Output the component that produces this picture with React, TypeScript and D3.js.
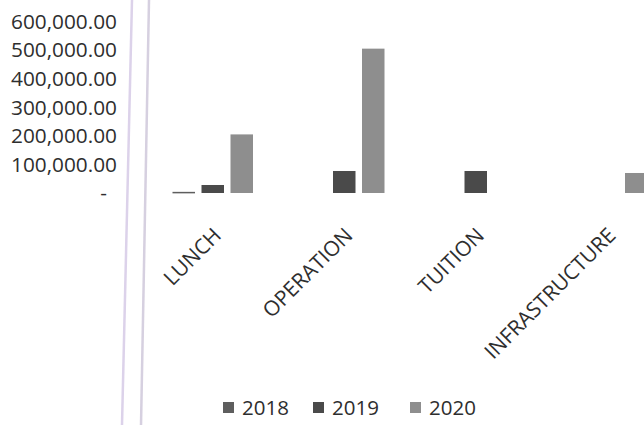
import React, { useEffect, useRef } from "react";
import * as d3 from "d3";

const categories = ["LUNCH", "OPERATION", "TUITION", "INFRASTRUCTURE"];
const seriesNames = ["2018", "2019", "2020"];
const values2018 = [4000, 0, 0, 0];
const values2019 = [28000, 77000, 77000, 0];
const values2020 = [205000, 505000, 0, 70000];
const yTicks = [0, 100000, 200000, 300000, 400000, 500000, 600000];

const colors = ["#5e5e5e", "#4a4a4a", "#8e8e8e"];

const App = () => {
  const ref = useRef<SVGSVGElement>(null);

  useEffect(() => {
    const width = 644;
    const height = 425;
    const svg = d3.select(ref.current).attr("width", width).attr("height", height);
    svg.selectAll("*").remove();

    const allSeries = [values2018, values2019, values2020];

    // page lines from the scan
    svg.append("line").attr("x1", 132).attr("y1", 0).attr("x2", 122).attr("y2", height)
      .attr("stroke", "#dcd2ea").attr("stroke-width", 2.5);
    svg.append("line").attr("x1", 149).attr("y1", 0).attr("x2", 141).attr("y2", height)
      .attr("stroke", "#d6d0e0").attr("stroke-width", 2.5);

    const x0 = d3.scaleBand<string>().domain(categories).range([147, 673]).padding(0);
    const x1 = d3.scaleBand<string>()
      .domain(seriesNames)
      .range([(x0.bandwidth() - 80.5) / 2, (x0.bandwidth() + 80.5) / 2])
      .paddingInner(0.224)
      .paddingOuter(0);

    const y = d3.scaleLinear().domain([0, 600000]).range([193, 21.5]);

    const fmt = d3.format(",.2f");
    const font = "'Open Sans', sans-serif";

    // y tick labels
    svg.append("g").selectAll("text")
      .data(yTicks)
      .enter()
      .append("text")
      .attr("x", d => (d === 0 ? 107 : 117))
      .attr("y", d => y(d))
      .attr("dy", "0.35em")
      .attr("text-anchor", "end")
      .attr("font-family", font)
      .attr("font-size", 20.8)
      .attr("fill", "#2e2e2e")
      .text(d => (d === 0 ? "-" : fmt(d)));

    // bars
    const groups = svg.append("g").selectAll("g")
      .data(categories)
      .enter()
      .append("g")
      .attr("transform", d => `translate(${x0(d)},0)`);

    groups.selectAll("rect")
      .data((_, i) => seriesNames.map((s, j) => ({ s, j, v: allSeries[j][i] })))
      .enter()
      .filter(d => d.v > 0)
      .append("rect")
      .attr("x", d => x1(d.s) as number)
      .attr("y", d => y(d.v))
      .attr("width", x1.bandwidth())
      .attr("height", d => Math.max(1.5, y(0) - y(d.v)))
      .attr("fill", d => colors[d.j]);

    // category labels
    svg.append("g").selectAll("text")
      .data(categories)
      .enter()
      .append("text")
      .attr("transform", d => `translate(${(x0(d) as number) + x0.bandwidth() / 2 - 1},${226}) rotate(-45)`)
      .attr("text-anchor", "end")
      .attr("dy", "0.72em")
      .attr("font-family", font)
      .attr("font-size", 21)
      .attr("fill", "#2e2e2e")
      .text(d => d);

    // legend
    const legendX = [223, 313, 410];
    const legend = svg.append("g").selectAll("g")
      .data(seriesNames)
      .enter()
      .append("g")
      .attr("transform", (_, i) => `translate(${legendX[i]},402)`);
    legend.append("rect")
      .attr("width", 11)
      .attr("height", 11)
      .attr("fill", (_, i) => colors[i]);
    legend.append("text")
      .attr("x", 19)
      .attr("y", 13)
      .attr("font-family", font)
      .attr("font-size", 20.5)
      .attr("fill", "#2e2e2e")
      .text(d => d);
  }, []);

  return <svg ref={ref} style={{ position: "absolute", left: 0, top: 0, background: "#fff" }}></svg>;
};

export default App;
